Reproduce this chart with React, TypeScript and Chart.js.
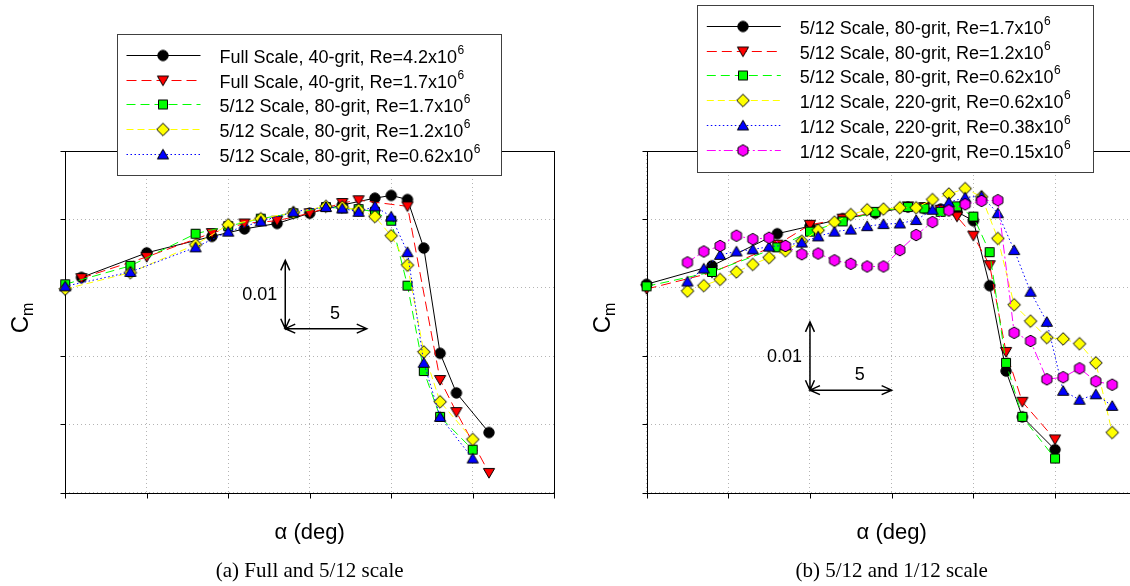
import React, { useEffect, useRef } from "react";
import { Chart, registerables } from "chart.js";
import type { Plugin } from "chart.js";

Chart.register(...registerables);

// Angle of attack (deg) for each test series
const ALPHA_FULL_42 = [-9, -5, -1, 1, 3, 5, 7, 9, 10, 11, 12, 13, 14, 16];
const ALPHA_FULL_17 = [-9, -5, -1, 1, 3, 5, 7, 8, 11, 13, 14, 16];
const ALPHA_512 = [-10, -6, -2, 0, 2, 4, 6, 7, 8, 9, 10, 11, 12, 13, 15];
const ALPHA_112 = [
  -7.5, -6.5, -5.5, -4.5, -3.5, -2.5, -1.5, -0.5, 0.5, 1.5, 2.5, 3.5, 4.5, 5.5,
  6.5, 7.5, 8.5, 9.5, 10.5, 11.5, 12.5, 13.5, 14.5, 15.5, 16.5, 17.5, 18.5,
];

// Pitching moment coefficient C_m
const CM_FULL_42 = [
  -0.0185, -0.0149, -0.0125, -0.0114, -0.0106, -0.0091, -0.0079, -0.0069,
  -0.0065, -0.0071, -0.0142, -0.0296, -0.0354, -0.0412,
];
const CM_FULL_17 = [
  -0.0186, -0.0155, -0.012, -0.0106, -0.0102, -0.0091, -0.0076, -0.0072,
  -0.0081, -0.0335, -0.0382, -0.0471,
];
const CM_512_17 = [
  -0.0195, -0.0168, -0.0121, -0.011, -0.0099, -0.0091, -0.0082, -0.0084,
  -0.0085, -0.0089, -0.0102, -0.0197, -0.0322, -0.0389, -0.0437,
];
const CM_512_12 = [
  -0.0202, -0.0178, -0.0137, -0.0108, -0.0099, -0.009, -0.0081, -0.0082,
  -0.0086, -0.0096, -0.0124, -0.0167, -0.0294, -0.0367, -0.0422,
];
const CM_512_062 = [
  -0.0198, -0.0177, -0.0141, -0.0118, -0.0103, -0.0089, -0.0082, -0.0084,
  -0.0089, -0.0081, -0.0096, -0.0148, -0.031, -0.0389, -0.045,
];
const CM_112_062 = [
  -0.0205, -0.0197, -0.0188, -0.0177, -0.0166, -0.0156, -0.0146, -0.0132,
  -0.0116, -0.0104, -0.0093, -0.0086, -0.0085, -0.0083, -0.0083, -0.0071,
  -0.0063, -0.0055, -0.0067, -0.0128, -0.0225, -0.0249, -0.0273, -0.0275,
  -0.0282, -0.031, -0.0412,
];
const CM_112_038 = [
  -0.0191, -0.0172, -0.0152, -0.0147, -0.0144, -0.014, -0.0138, -0.0134,
  -0.0125, -0.0118, -0.0115, -0.011, -0.0107, -0.0106, -0.0101, -0.0086,
  -0.0075, -0.0068, -0.0066, -0.0091, -0.0145, -0.0206, -0.025, -0.0351,
  -0.0364, -0.0356, -0.0373,
];
const CM_112_015 = [
  -0.0163, -0.0147, -0.0139, -0.0124, -0.0129, -0.0127, -0.0139, -0.0151,
  -0.015, -0.016, -0.0165, -0.0169, -0.0169, -0.0145, -0.0123, -0.0104,
  -0.0087, -0.0078, -0.0073, -0.0072, -0.0266, -0.0278, -0.0334, -0.0331,
  -0.0318, -0.0337, -0.0342,
];

// Axis ranges and tick spacing
const ALPHA_RANGE = [-10, 20];
const ALPHA_STEP = 5;
const CM_RANGE = [-0.05, 0];
const CM_STEP = 0.01;

// Legend entries: text before the exponent, exponent
const LABEL_FULL_42 = ["Full Scale, 40-grit, Re=4.2x10", "6"];
const LABEL_FULL_17 = ["Full Scale, 40-grit, Re=1.7x10", "6"];
const LABEL_512_17 = ["5/12 Scale, 80-grit, Re=1.7x10", "6"];
const LABEL_512_12 = ["5/12 Scale, 80-grit, Re=1.2x10", "6"];
const LABEL_512_062 = ["5/12 Scale, 80-grit, Re=0.62x10", "6"];
const LABEL_112_062 = ["1/12 Scale, 220-grit, Re=0.62x10", "6"];
const LABEL_112_038 = ["1/12 Scale, 220-grit, Re=0.38x10", "6"];
const LABEL_112_015 = ["1/12 Scale, 220-grit, Re=0.15x10", "6"];

const CAPTION_A = "(a) Full and 5/12 scale";
const CAPTION_B = "(b) 5/12 and 1/12 scale";

type Marker = "circle" | "triDown" | "square" | "diamond" | "triUp" | "hexagon";

interface Series {
  xs: number[];
  ys: number[];
  label: string[];
  color: string;
  dash: number[];
  marker: Marker;
}

interface Panel {
  left: number;
  width: number;
  area: { left: number; right: number; top: number; bottom: number };
  series: Series[];
  legend: { x: number; y: number; w: number; h: number };
  bar: { x: number; y: number };
  caption: string;
}

const SANS = "'Liberation Sans', Arial, Helvetica, sans-serif";
const SERIF = "'Liberation Serif', 'Times New Roman', serif";

const BLACK = { color: "#000000", dash: [] as number[], marker: "circle" as Marker };
const RED = { color: "#ff0000", dash: [10, 5], marker: "triDown" as Marker };
const GREEN = { color: "#00ff00", dash: [9, 5], marker: "square" as Marker };
const YELLOW = { color: "#ffff00", dash: [7, 4], marker: "diamond" as Marker };
const BLUE = { color: "#0000ff", dash: [1.5, 2.5], marker: "triUp" as Marker };
const MAGENTA = { color: "#ff00ff", dash: [9, 3, 2, 3], marker: "hexagon" as Marker };

const markerCache = new Map<string, HTMLCanvasElement>();

function markerImage(shape: Marker, fill: string): HTMLCanvasElement {
  const key = shape + fill;
  const hit = markerCache.get(key);
  if (hit) return hit;
  const s = 16;
  const c = s / 2;
  const cv = document.createElement("canvas");
  cv.width = s;
  cv.height = s;
  const g = cv.getContext("2d")!;
  g.beginPath();
  if (shape === "circle") {
    g.arc(c, c, 5.2, 0, Math.PI * 2);
  } else if (shape === "triDown") {
    g.moveTo(c - 5.6, c - 4.4);
    g.lineTo(c + 5.6, c - 4.4);
    g.lineTo(c, c + 5.2);
    g.closePath();
  } else if (shape === "triUp") {
    g.moveTo(c - 5.6, c + 4.4);
    g.lineTo(c + 5.6, c + 4.4);
    g.lineTo(c, c - 5.2);
    g.closePath();
  } else if (shape === "square") {
    g.rect(c - 4.5, c - 4.5, 9, 9);
  } else if (shape === "diamond") {
    g.moveTo(c, c - 6.3);
    g.lineTo(c + 6.3, c);
    g.lineTo(c, c + 6.3);
    g.lineTo(c - 6.3, c);
    g.closePath();
  } else {
    for (let i = 0; i < 6; i++) {
      const a = Math.PI / 6 + (i * Math.PI) / 3;
      const px = c + 5.8 * Math.cos(a);
      const py = c + 5.8 * Math.sin(a);
      if (i === 0) g.moveTo(px, py);
      else g.lineTo(px, py);
    }
    g.closePath();
  }
  g.fillStyle = fill;
  g.fill();
  g.lineWidth = 1;
  g.strokeStyle = "#000000";
  g.stroke();
  markerCache.set(key, cv);
  return cv;
}

function arrowHead(ctx: CanvasRenderingContext2D, x: number, y: number, dx: number, dy: number) {
  const len = 10;
  const half = 4.5;
  const nx = -dy;
  const ny = dx;
  ctx.moveTo(x - dx * len + nx * half, y - dy * len + ny * half);
  ctx.lineTo(x, y);
  ctx.lineTo(x - dx * len - nx * half, y - dy * len - ny * half);
}

function decorPlugin(p: Panel): Plugin<"scatter"> {
  return {
    id: "panelDecor",
    beforeDatasetsDraw(chart) {
      const { ctx, chartArea: a } = chart;
      const xs = chart.scales.x;
      const ys = chart.scales.y;
      const L = Math.round(a.left) + 0.5;
      const R = Math.round(a.right) + 0.5;
      const T = Math.round(a.top) + 0.5;
      const B = Math.round(a.bottom) + 0.5;
      ctx.save();
      ctx.strokeStyle = "#000000";
      ctx.lineWidth = 1;
      ctx.setLineDash([]);
      ctx.strokeRect(L, T, R - L, B - T);
      ctx.beginPath();
      xs.ticks.forEach((t) => {
        const px = Math.round(xs.getPixelForValue(t.value)) + 0.5;
        ctx.moveTo(px, B);
        ctx.lineTo(px, B + 5);
      });
      ys.ticks.forEach((t) => {
        const py = Math.round(ys.getPixelForValue(t.value)) + 0.5;
        ctx.moveTo(L, py);
        ctx.lineTo(L - 5, py);
      });
      ctx.stroke();
      ctx.restore();
    },
    afterDatasetsDraw(chart) {
      const { ctx } = chart;
      const xs = chart.scales.x;
      const ys = chart.scales.y;

      // scale bars: one C_m step vertically, one alpha step horizontally
      const x0 = xs.getPixelForValue(p.bar.x);
      const y0 = ys.getPixelForValue(p.bar.y);
      const y1 = ys.getPixelForValue(p.bar.y + CM_STEP);
      const x1 = xs.getPixelForValue(p.bar.x + ALPHA_STEP);
      ctx.save();
      ctx.strokeStyle = "#000000";
      ctx.lineWidth = 1.5;
      ctx.setLineDash([]);
      ctx.beginPath();
      ctx.moveTo(x0, y0);
      ctx.lineTo(x0, y1);
      ctx.moveTo(x0, y0);
      ctx.lineTo(x1, y0);
      arrowHead(ctx, x0, y1, 0, -1);
      arrowHead(ctx, x0, y0, 0, 1);
      arrowHead(ctx, x1, y0, 1, 0);
      arrowHead(ctx, x0, y0, -1, 0);
      ctx.stroke();
      ctx.fillStyle = "#000000";
      ctx.font = `18px ${SANS}`;
      ctx.textBaseline = "middle";
      ctx.textAlign = "right";
      ctx.fillText(String(CM_STEP), x0 - 8, (y0 + y1) / 2 + 1);
      ctx.textAlign = "center";
      ctx.fillText(String(ALPHA_STEP), (x0 + x1) / 2 + 9, y0 - 15);
      ctx.restore();

      // legend box
      const lg = p.legend;
      ctx.save();
      ctx.fillStyle = "#ffffff";
      ctx.fillRect(lg.x, lg.y, lg.w, lg.h);
      ctx.strokeStyle = "#404040";
      ctx.lineWidth = 1;
      ctx.strokeRect(Math.round(lg.x) + 0.5, Math.round(lg.y) + 0.5, Math.round(lg.w), Math.round(lg.h));
      p.series.forEach((s, i) => {
        const cy = Math.round(lg.y + 21 + i * 24.7);
        ctx.beginPath();
        ctx.setLineDash(s.dash);
        ctx.strokeStyle = s.color;
        ctx.lineWidth = 1;
        ctx.moveTo(lg.x + 9.5, cy + 0.5);
        ctx.lineTo(lg.x + 83.5, cy + 0.5);
        ctx.stroke();
        ctx.setLineDash([]);
        const img = markerImage(s.marker, s.color);
        ctx.drawImage(img, Math.round(lg.x + 46 - img.width / 2), cy - img.height / 2 + 0.5);
        ctx.fillStyle = "#000000";
        ctx.textAlign = "left";
        ctx.textBaseline = "alphabetic";
        ctx.font = `18px ${SANS}`;
        const tx = lg.x + 102.5;
        ctx.fillText(s.label[0], tx, cy + 7.5);
        const w = ctx.measureText(s.label[0]).width;
        ctx.font = `12px ${SANS}`;
        ctx.fillText(s.label[1], tx + w + 0.5, cy - 1);
      });
      ctx.restore();
    },
    afterDraw(chart) {
      const { ctx, chartArea: a } = chart;
      ctx.save();
      ctx.fillStyle = "#000000";
      // C_m, rotated
      ctx.translate(a.left - 46, 318);
      ctx.rotate(-Math.PI / 2);
      ctx.textBaseline = "alphabetic";
      ctx.textAlign = "left";
      ctx.font = `24px ${SANS}`;
      const wC = ctx.measureText("C").width;
      ctx.font = `16px ${SANS}`;
      const wm = ctx.measureText("m").width;
      const sx = -(wC + wm) / 2;
      ctx.font = `24px ${SANS}`;
      ctx.fillText("C", sx, 9);
      ctx.font = `16px ${SANS}`;
      ctx.fillText("m", sx + wC, 14);
      ctx.restore();

      ctx.save();
      ctx.fillStyle = "#000000";
      ctx.textAlign = "center";
      ctx.textBaseline = "alphabetic";
      const cx = (a.left + a.right) / 2;
      ctx.font = `22px ${SANS}`;
      ctx.fillText("\u03b1 (deg)", cx, 539);
      ctx.font = `21px ${SERIF}`;
      ctx.fillText(p.caption, cx, 577);
      ctx.restore();
    },
  };
}

function toPoints(xs: number[], ys: number[]) {
  return xs.map((x, i) => ({ x, y: ys[i] }));
}

function ChartPanel({ panel }: { panel: Panel }) {
  const ref = useRef<HTMLCanvasElement | null>(null);
  useEffect(() => {
    const canvas = ref.current;
    if (!canvas) return;
    const n = panel.series.length;
    const gridStyle = {
      color: "#b4b4b4",
      lineWidth: 1,
      drawTicks: false,
    };
    const chart = new Chart(canvas, {
      type: "scatter",
      data: {
        datasets: panel.series.map((s, i) => ({
          label: s.label.join(""),
          data: toPoints(s.xs, s.ys),
          showLine: true,
          borderColor: s.color,
          backgroundColor: s.color,
          borderWidth: 1,
          borderDash: s.dash,
          pointStyle: markerImage(s.marker, s.color),
          pointRadius: 6,
          pointHoverRadius: 6,
          clip: false as any,
          order: n - i,
        })),
      },
      options: {
        responsive: false,
        animation: false,
        devicePixelRatio: 1,
        events: [],
        layout: {
          padding: {
            left: panel.area.left,
            right: panel.width - panel.area.right,
            top: panel.area.top,
            bottom: 586 - panel.area.bottom,
          },
        },
        plugins: {
          legend: { display: false },
          tooltip: { enabled: false },
        },
        scales: {
          x: {
            type: "linear",
            min: ALPHA_RANGE[0],
            max: ALPHA_RANGE[1],
            ticks: { stepSize: ALPHA_STEP, display: false },
            grid: gridStyle,
            border: { display: false, dash: [1, 3] },
          },
          y: {
            type: "linear",
            min: CM_RANGE[0],
            max: CM_RANGE[1],
            ticks: { stepSize: CM_STEP, display: false },
            grid: gridStyle,
            border: { display: false, dash: [1, 3] },
          },
        },
      },
      plugins: [decorPlugin(panel)],
    });
    return () => chart.destroy();
  }, [panel]);
  return (
    <canvas
      ref={ref}
      width={panel.width}
      height={586}
      style={{ position: "absolute", left: panel.left, top: 0, width: panel.width, height: 586 }}
    />
  );
}

const PANEL_A: Panel = {
  left: 0,
  width: 565,
  area: { left: 65.2, right: 554.2, top: 151, bottom: 492.7 },
  series: [
    { xs: ALPHA_FULL_42, ys: CM_FULL_42, label: LABEL_FULL_42, ...BLACK },
    { xs: ALPHA_FULL_17, ys: CM_FULL_17, label: LABEL_FULL_17, ...RED },
    { xs: ALPHA_512, ys: CM_512_17, label: LABEL_512_17, ...GREEN },
    { xs: ALPHA_512, ys: CM_512_12, label: LABEL_512_12, ...YELLOW },
    { xs: ALPHA_512, ys: CM_512_062, label: LABEL_512_062, ...BLUE },
  ],
  legend: { x: 117, y: 34, w: 384, h: 141 },
  bar: { x: 3.5, y: -0.026 },
  caption: CAPTION_A,
};

const PANEL_B: Panel = {
  left: 565,
  width: 600,
  area: { left: 81.6, right: 571.7, top: 151, bottom: 492.7 },
  series: [
    { xs: ALPHA_512, ys: CM_512_17, label: LABEL_512_17, ...BLACK },
    { xs: ALPHA_512, ys: CM_512_12, label: LABEL_512_12, ...RED },
    { xs: ALPHA_512, ys: CM_512_062, label: LABEL_512_062, ...GREEN },
    { xs: ALPHA_112, ys: CM_112_062, label: LABEL_112_062, ...YELLOW },
    { xs: ALPHA_112, ys: CM_112_038, label: LABEL_112_038, ...BLUE },
    { xs: ALPHA_112, ys: CM_112_015, label: LABEL_112_015, ...MAGENTA },
  ],
  legend: { x: 132.3, y: 5, w: 396, h: 167 },
  bar: { x: 0, y: -0.035 },
  caption: CAPTION_B,
};

export default function App() {
  return (
    <div
      style={{
        position: "fixed",
        left: 0,
        top: 0,
        width: 1130,
        height: 586,
        overflow: "hidden",
        background: "#ffffff",
      }}
    >
      <ChartPanel panel={PANEL_A} />
      <ChartPanel panel={PANEL_B} />
    </div>
  );
}
